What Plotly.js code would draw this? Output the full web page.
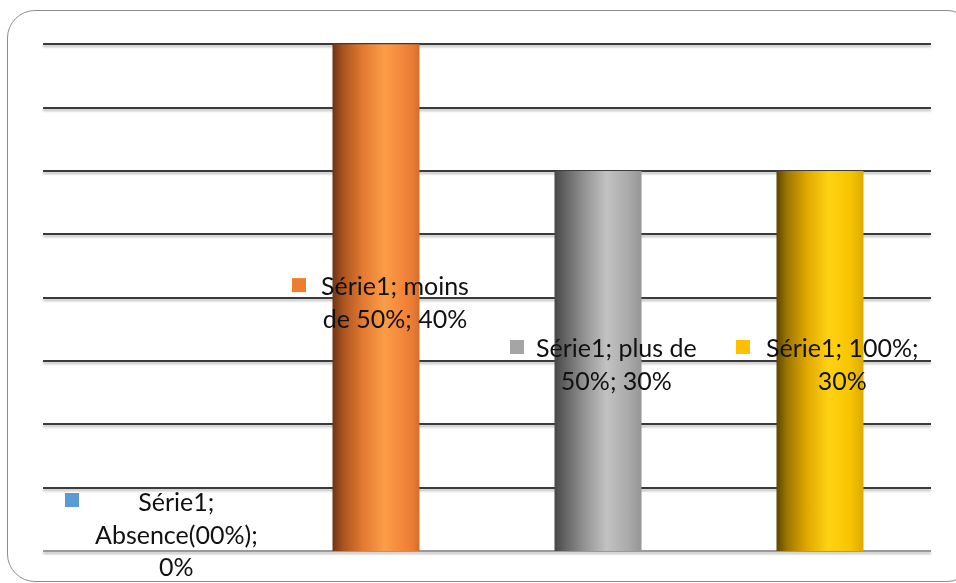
<!DOCTYPE html>
<html>
<head>
<meta charset="utf-8">
<script src="https://cdn.plot.ly/plotly-3.0.1.min.js"></script>
<style>
  html, body { margin: 0; padding: 0; background: #fff; overflow: hidden; }
  #wrap { position: relative; width: 956px; height: 583px; }
  #chart { position: absolute; left: 0; top: 0; width: 956px; height: 583px; }
  #frame {
    position: absolute; left: 7px; top: 10px; width: 966px; height: 570px;
    border: 1.3px solid #8c8c8c; border-radius: 28px; pointer-events: none;
  }
</style>
</head>
<body>
<div id="wrap">
  <div id="chart"></div>
  <div id="frame"></div>
</div>
<script>
// Série1 : share of responses per category (percent)
const seriesName = 'Série1';
const categories = ['Absence(00%)', 'moins de 50%', 'plus de 50%', '100%'];
const values = [0, 40, 30, 30];
const keyColors = ['#5b9bd5', '#ed7d31', '#a5a5a5', '#ffc000'];
const yTicks = [0, 5, 10, 15, 20, 25, 30, 35, 40];

// horizontal cylinder shading for each bar
const barShades = [
  [[0, '#2e5f8f'], [0.2, '#4a86c0'], [0.55, '#8dbbe6'], [0.8, '#5b9bd5'], [1, '#4a86c0']],
  [[0, '#6e3314'], [0.12, '#a9531f'], [0.35, '#e37a32'], [0.6, '#fb9d48'], [0.82, '#f3853a'], [0.93, '#e87a32'], [1, '#d06e2e']],
  [[0, '#474747'], [0.15, '#6a6a6a'], [0.38, '#9a9a9a'], [0.6, '#c2c2c2'], [0.85, '#aaaaaa'], [1, '#959595']],
  [[0, '#5c4600'], [0.12, '#9c7600'], [0.35, '#e0a800'], [0.6, '#ffd313'], [0.85, '#f7c400'], [1, '#dcaa00']]
];

// label text offsets (px) relative to bar centre / half-height, and key square offsets
const labelShift = [[22, 17.5], [19, -3.5], [18, -2.5], [22, -2.5]];
const keyShift = [[-82, 51], [-77, 12.5], [-81, 14], [-77, 14]];
const keySize = 14;

function wrapText(s, maxChars) {
  const words = s.split(' ');
  const lines = [];
  let cur = '';
  words.forEach(w => {
    const next = cur ? cur + ' ' + w : w;
    if (cur && next.length > maxChars) { lines.push(cur); cur = w; }
    else cur = next;
  });
  if (cur) lines.push(cur);
  return lines.join('<br>');
}

const xIdx = categories.map((_, i) => i);

const trace = {
  type: 'bar',
  x: xIdx,
  y: values,
  width: 0.392,
  marker: { color: keyColors, line: { width: 0 } },
  hoverinfo: 'skip'
};

const annotations = [];
const shapes = [];
values.forEach((v, i) => {
  const txt = wrapText(seriesName + '; ' + categories[i] + '; ' + v + '%', 15);
  annotations.push({
    x: i, y: v / 2, xref: 'x', yref: 'y',
    text: txt, showarrow: false,
    xanchor: 'center', yanchor: 'middle', align: 'center',
    xshift: labelShift[i][0], yshift: labelShift[i][1],
    font: { family: 'Lato, "Open Sans", sans-serif', size: 25, color: '#111' }
  });
  shapes.push({
    type: 'rect', xref: 'x', yref: 'y',
    xsizemode: 'pixel', ysizemode: 'pixel',
    xanchor: i, yanchor: v / 2,
    x0: keyShift[i][0] - keySize / 2, x1: keyShift[i][0] + keySize / 2,
    y0: keyShift[i][1] - keySize / 2, y1: keyShift[i][1] + keySize / 2,
    fillcolor: keyColors[i], line: { width: 0 }
  });
});

const layout = {
  width: 956, height: 583,
  margin: { l: 43, r: 25, t: 43, b: 32 },
  paper_bgcolor: '#ffffff',
  plot_bgcolor: 'rgba(0,0,0,0)',
  showlegend: false,
  xaxis: {
    range: [-0.5, categories.length - 0.5],
    showticklabels: false, ticks: '', showgrid: false, zeroline: false, showline: false,
    fixedrange: true
  },
  yaxis: {
    // a hair above 40 so the top grid line is kept inside the plot area
    range: [0, 40.1],
    tickvals: yTicks, showticklabels: false, ticks: '',
    showgrid: true, gridcolor: '#3a3a3a', gridwidth: 2,
    zeroline: true, zerolinecolor: '#9a9a9a', zerolinewidth: 2.5,
    showline: false, fixedrange: true
  },
  annotations: annotations,
  shapes: shapes
};

Plotly.newPlot('chart', [trace], layout, { staticPlot: true, displayModeBar: false }).then(gd => {
  const svg = gd.querySelector('svg.main-svg');
  const ns = 'http://www.w3.org/2000/svg';
  let defs = svg.querySelector('defs');
  if (!defs) { defs = document.createElementNS(ns, 'defs'); svg.insertBefore(defs, svg.firstChild); }

  // cylinder gradients
  barShades.forEach((stops, i) => {
    const g = document.createElementNS(ns, 'linearGradient');
    g.setAttribute('id', 'cyl' + i);
    g.setAttribute('x1', '0'); g.setAttribute('x2', '1');
    g.setAttribute('y1', '0'); g.setAttribute('y2', '0');
    stops.forEach(([o, c]) => {
      const s = document.createElementNS(ns, 'stop');
      s.setAttribute('offset', o);
      s.setAttribute('stop-color', c);
      g.appendChild(s);
    });
    defs.appendChild(g);
  });

  // soft shadow under the grid lines
  const f = document.createElementNS(ns, 'filter');
  f.setAttribute('id', 'gridShadow');
  f.setAttribute('filterUnits', 'userSpaceOnUse');
  f.setAttribute('x', '0'); f.setAttribute('y', '0');
  f.setAttribute('width', '956'); f.setAttribute('height', '583');
  const ds = document.createElementNS(ns, 'feDropShadow');
  ds.setAttribute('dx', '0'); ds.setAttribute('dy', '2');
  ds.setAttribute('stdDeviation', '0.9');
  ds.setAttribute('flood-color', '#000');
  ds.setAttribute('flood-opacity', '0.28');
  f.appendChild(ds);
  defs.appendChild(f);

  gd.querySelectorAll('.gridlayer, .zerolinelayer').forEach(el => el.setAttribute('filter', 'url(#gridShadow)'));

  gd.querySelectorAll('.barlayer .point path').forEach((p, i) => {
    p.style.fill = 'url(#cyl' + i + ')';
  });
});
</script>
</body>
</html>
